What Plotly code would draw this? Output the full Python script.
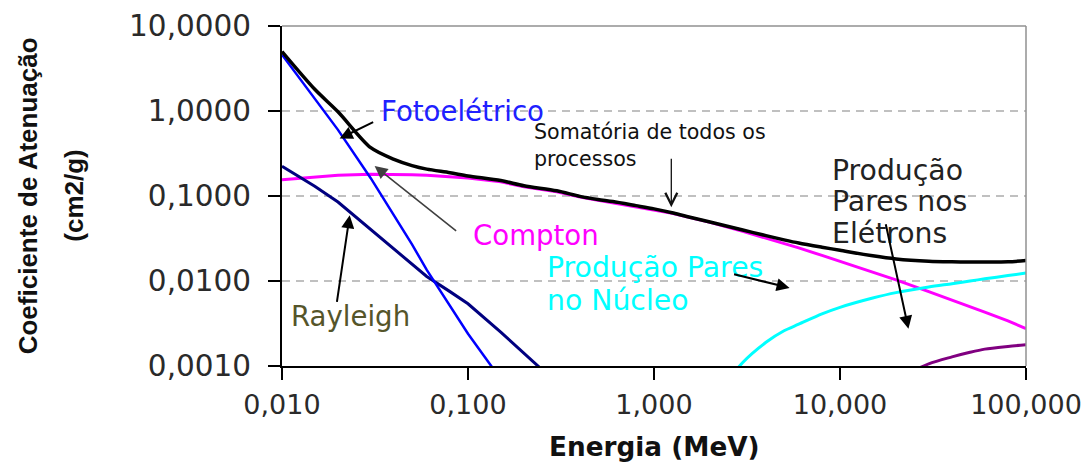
import plotly.graph_objects as go

# ---------------- data ----------------
energy = [0.01, 0.015, 0.02, 0.03, 0.04, 0.05, 0.06, 0.08, 0.1, 0.15, 0.2, 0.3, 0.4,
          0.5, 0.6, 0.8, 1, 1.25, 1.5, 2, 3, 4, 5, 6, 8, 10, 15, 20, 30, 40, 50,
          60, 80, 100]
total = [5.0, 1.80, 0.98, 0.37, 0.270, 0.228, 0.207, 0.188, 0.172, 0.152, 0.132,
         0.115, 0.099, 0.091, 0.086, 0.077, 0.0705, 0.0635, 0.0573, 0.0494,
         0.0398, 0.0342, 0.0305, 0.0280, 0.0250, 0.0230, 0.0198, 0.0182,
         0.0171, 0.0168, 0.0167, 0.0167, 0.0168, 0.0174]
compton = [0.155, 0.166, 0.175, 0.180, 0.180, 0.178, 0.175, 0.169, 0.163, 0.147,
           0.128, 0.112, 0.097, 0.089, 0.083, 0.0745, 0.0690, 0.0625, 0.0570,
           0.0490, 0.0385, 0.0320, 0.0275, 0.0245, 0.0200, 0.0170, 0.0127,
           0.0103, 0.0075, 0.0060, 0.0050, 0.0043, 0.0034, 0.00275]

energy_photo = [0.01, 0.015, 0.02, 0.03, 0.04, 0.05, 0.06, 0.08, 0.1, 0.15, 0.2]
photo = [4.6, 1.40, 0.60, 0.162, 0.060, 0.027, 0.0135, 0.0050, 0.0024, 0.0007, 0.00028]

energy_rayleigh = [0.01, 0.015, 0.02, 0.03, 0.04, 0.05, 0.06, 0.08, 0.1, 0.15, 0.2, 0.3]
rayleigh = [0.224, 0.130, 0.085, 0.040, 0.0235, 0.0155, 0.0113, 0.0075, 0.0054,
            0.0025, 0.00143, 0.00063]

energy_pair_nuc = [2, 3, 4, 5, 6, 8, 10, 15, 20, 30, 40, 50, 60, 80, 100]
pair_nuc = [0.00035, 0.00110, 0.0019, 0.0026, 0.0031, 0.0041, 0.0049, 0.0063,
            0.0073, 0.0085, 0.0093, 0.0100, 0.0106, 0.0116, 0.0124]

energy_pair_el = [15, 20, 30, 40, 50, 60, 80, 100]
pair_el = [0.00045, 0.00068, 0.00106, 0.00128, 0.00145, 0.00158, 0.00170, 0.00178]

x_ticks = [0.01, 0.1, 1, 10, 100]
x_tick_labels = ["0,010", "0,100", "1,000", "10,000", "100,000"]
y_ticks = [0.001, 0.01, 0.1, 1, 10]
y_tick_labels = ["0,0010", "0,0100", "0,1000", "1,0000", "10,0000"]

# ---------------- figure ----------------
fig = go.Figure()

def add_line(x, y, color, width, name, shape="linear"):
    fig.add_trace(go.Scatter(x=x, y=y, mode="lines", name=name,
                             line=dict(color=color, width=width, shape=shape,
                                       smoothing=0.8 if shape == "spline" else None),
                             hoverinfo="x+y+name"))

add_line(energy, compton, "#ff00ff", 3, "Compton")
add_line(energy_pair_nuc, pair_nuc, "#00ffff", 3, "Produção Pares no Núcleo", "spline")
add_line(energy_pair_el, pair_el, "#800080", 3, "Produção Pares nos Elétrons", "spline")
add_line(energy_rayleigh, rayleigh, "#000080", 3, "Rayleigh")
add_line(energy_photo, photo, "#0000ff", 2.5, "Fotoelétrico")
add_line(energy, total, "#000000", 3.5, "Somatória de todos os processos", "spline")

FONT = "DejaVu Sans"

# the page body adds an 8px offset, so the figure is 8px smaller than the window
fig.update_layout(
    width=1083, height=458,
    margin=dict(l=274, r=65, t=18, b=100, autoexpand=False),
    plot_bgcolor="white", paper_bgcolor="white",
    showlegend=False,
    xaxis=dict(type="log", range=[-2, 2], tickvals=x_ticks, ticktext=x_tick_labels,
               showgrid=False, showline=True, linecolor="black", linewidth=2,
               ticks="outside", ticklen=12, tickwidth=2, tickcolor="black",
               tickfont=dict(family=FONT, size=27, color="#2a2a2a"),
               ticklabelstandoff=2, zeroline=False, automargin=False),
    yaxis=dict(type="log", range=[-3, 1], tickvals=y_ticks, ticktext=y_tick_labels,
               showgrid=True, gridcolor="#c0c0c0", gridwidth=1.5, griddash="8px,6px",
               showline=True, linecolor="black", linewidth=2,
               ticks="outside", ticklen=12, tickwidth=2, tickcolor="black",
               tickfont=dict(family=FONT, size=29.5, color="#2a2a2a"),
               ticklabelstandoff=11, zeroline=False, automargin=False),
    shapes=[
        dict(type="line", xref="paper", yref="paper", x0=0, x1=1, y0=1, y1=1,
             line=dict(color="#909090", width=1.5)),
        dict(type="line", xref="paper", yref="paper", x0=1, x1=1, y0=0, y1=1,
             line=dict(color="#909090", width=1.5)),
    ],
)

annotations = []

# axis titles
annotations.append(dict(text="<b>Coeficiente de Atenuação</b>", xref="paper", yref="paper",
                        x=-0.341, y=0.5, textangle=-90, showarrow=False,
                        xanchor="center", yanchor="middle",
                        font=dict(family="Liberation Sans", size=26, color="#111111")))
annotations.append(dict(text="<b>(cm2/g)</b>", xref="paper", yref="paper",
                        x=-0.280, y=0.5, textangle=-90, showarrow=False,
                        xanchor="center", yanchor="middle",
                        font=dict(family="Liberation Sans", size=26, color="#111111")))
annotations.append(dict(text="<b>Energia (MeV)</b>", xref="paper", yref="paper",
                        x=0.5, y=-0.238, showarrow=False,
                        xanchor="center", yanchor="middle",
                        font=dict(family=FONT, size=26.3, color="#111111")))

# text labels (positions in log10 data units)
def label(text, lx, ly, color, size):
    annotations.append(dict(text=text, x=lx, y=ly, xref="x", yref="y",
                            showarrow=False, xanchor="left", yanchor="middle",
                            align="left", font=dict(family=FONT, size=size, color=color)))

label("Fotoelétrico", -1.480, 0.0, "#2020ff", 27.6)
label("Compton", -0.982, -1.462, "#ff00ff", 27.6)
label("Rayleigh", -1.964, -2.414, "#55552a", 27.6)
label("Produção Pares", -0.584, -1.836, "#00ffff", 28.3)
label("no Núcleo", -0.584, -2.228, "#00ffff", 28.3)
label("Somatória de todos os<br>processos", -0.655, -0.405, "#111111", 20.6)
label("Produção", 0.948, -0.697, "#222222", 28.3)
label("Pares nos", 0.948, -1.070, "#222222", 28.3)
label("Elétrons", 0.948, -1.442, "#222222", 28.3)

# arrows: head position in log10 data units, tail offset in pixels
def arrow(hx, hy, ax, ay, color="black", width=2.0, head=2, size=1.3):
    annotations.append(dict(text="", x=hx, y=hy, xref="x", yref="y",
                            showarrow=True, ax=ax, ay=ay, arrowhead=head,
                            arrowsize=size, arrowwidth=width, arrowcolor=color,
                            standoff=0))

arrow(-1.690, -0.323, 35, -17)                          # Fotoelétrico
arrow(-1.502, -0.647, 83, 66, "#404040", 1.6, 2, 1.6)   # Compton
arrow(-1.636, -1.227, -13, 88)                          # Rayleigh
arrow(0.093, -1.133, 0, -50, "#111111", 1.3, 5, 1.8)    # Somatória
arrow(0.729, -2.081, -57, -14)                          # Pares no Núcleo
arrow(1.368, -2.562, -23, -106)                         # Pares nos Elétrons

fig.update_layout(annotations=annotations)

fig.write_html("out.html")
